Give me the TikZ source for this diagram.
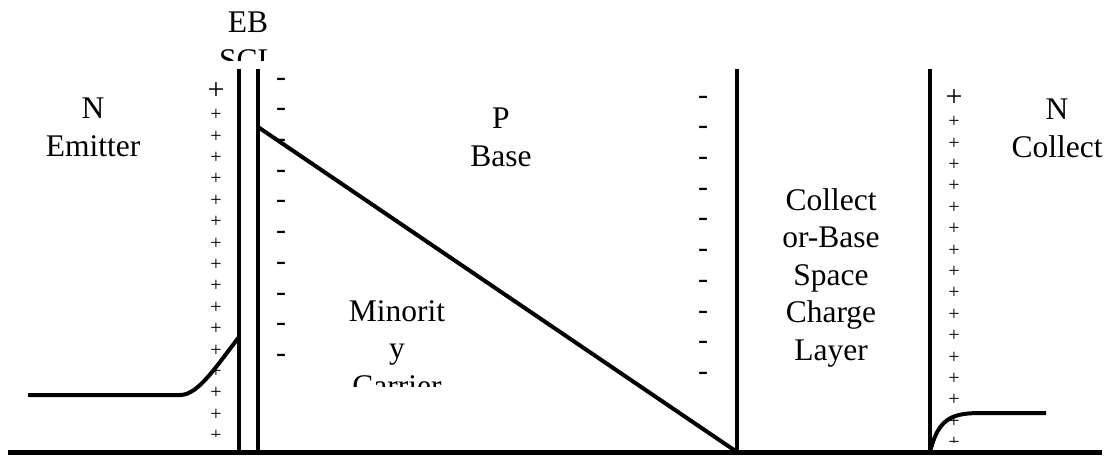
\documentclass[tikz,border=0pt]{standalone}
\usepackage{fontspec}
\setmainfont{Liberation Serif}
\usetikzlibrary{positioning}
\tikzset{
  wall/.style={line width=1.6pt},
  floor/.style={line width=2pt},
  prof/.style={line width=1.6pt},
  lbl/.style={font=\fontsize{12.6}{15}\selectfont,align=center,inner sep=0pt},
  pchg/.style={font=\fontsize{8}{9}\selectfont,inner sep=0pt},
  pchgbig/.style={font=\fontsize{12}{14}\selectfont,inner sep=0pt},
  nchg/.style={font=\fontsize{12}{14}\selectfont,inner sep=0pt},
}

\begin{document}
\begin{tikzpicture}[x=0.4pt,y=-0.4pt]
  \useasboundingbox (0,0) rectangle (1108,455);
  % junction walls
  \coordinate (ebL) at (239,69);
  \coordinate (ebR) at (258,69);
  \coordinate (cbL) at (737,69);
  \coordinate (cbR) at (930,69);
  \coordinate (gL) at (8,452);
  \coordinate (gR) at (1102,452);
  \draw[floor] (gL) -- (gR);
  \foreach \w in {ebL,ebR,cbL,cbR}
    \draw[wall] (\w) -- (\w |- gL);

  % ionised charges
  \begin{scope}
    \clip (0,0) rectangle (1108,436);
    \node[pchgbig] (pe0) at (216,91) {+};
    \foreach \k in {1,...,16}
      \node[pchg] (pe\k) at (216,{93.6+21.4*\k}) {+};
  \end{scope}
  \begin{scope}
    \clip (0,0) rectangle (1108,442);
    \node[pchgbig] (pc0) at (954,98) {+};
    \foreach \k in {1,...,16}
      \node[pchg] (pc\k) at (954,{100.6+21.4*\k}) {+};
  \end{scope}
  \foreach \k in {0,...,9} {
    \node[nchg] (nb\k) at (281,{82+30.7*\k}) {-};
    \node[nchg] (nc\k) at (703,{100+30.7*\k}) {-};
  }

  % region labels (anchored on the last line)
  \node[lbl,anchor=base] (emit) at (93,156) {N\\Emitter};
  \begin{scope}
    \clip (0,0) rectangle (1108,60);
    \node[lbl,anchor=base] (ebscl) at (248,70) {EB\\SCL};
  \end{scope}
  \node[lbl,anchor=base] (base) at (501,166) {P\\Base};
  \begin{scope}
    \clip (0,0) rectangle (1108,386);
    \node[lbl,anchor=base] (minor) at (397,396) {Minorit\\y\\Carrier};
  \end{scope}
  \node[lbl,anchor=base] (cbscl) at (831,360) {Collect\\or-Base\\Space\\Charge\\Layer};
  \node[lbl,anchor=base] (coll) at (1057,157) {N\\Collect};

  % minority carrier profile
  \coordinate (eFar) at (28,395);
  \coordinate (eKnee) at (180,395);
  \coordinate (eEdge) at (239,337);
  \draw[prof] (eFar) -- (eKnee) .. controls (198,395) and (215,368) .. (eEdge);
  \coordinate (bTop) at (258,127);
  \draw[prof] (bTop) -- (cbL |- gL);
  \coordinate (cKnee) at (980,413);
  \coordinate (cFar) at (1046,413);
  \draw[prof] (cbR |- gL) .. controls (938,420) and (950,413) .. (cKnee) -- (cFar);
\end{tikzpicture}
\end{document}
